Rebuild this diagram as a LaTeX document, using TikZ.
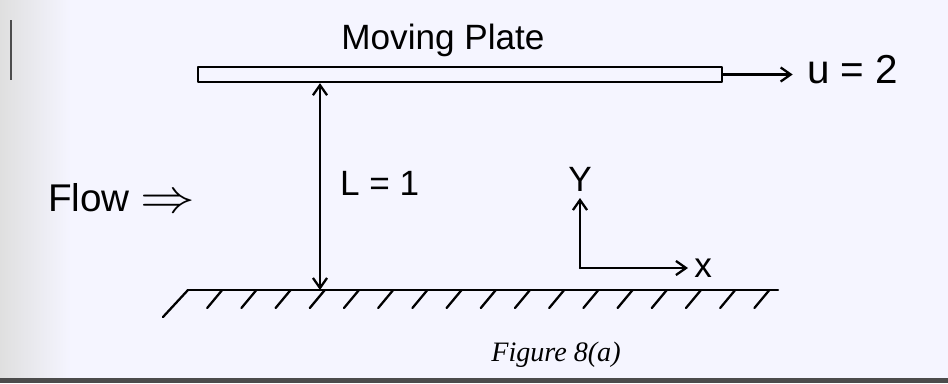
\documentclass[tikz,border=0pt]{standalone}
\usepackage{fontspec}
\setmainfont{Liberation Sans}
\newfontfamily\capfont{Liberation Serif}
\usepackage{graphicx}
\usepackage{tikz}
\usetikzlibrary{arrows.meta, positioning, calc}

\begin{document}
\begin{tikzpicture}[
  x=0.02cm, y=-0.02cm,
  hand/.style={line width=1.3pt, line cap=round, line join=round},
  arrow/.style={hand, -{Straight Barb[angle=70:7pt]}},
  dim/.style={hand, {Straight Barb[angle=70:7pt]}-{Straight Barb[angle=70:7pt]}},
  plate/.style={draw, hand, minimum width=524*0.02cm, minimum height=15*0.02cm, inner sep=0pt},
  label/.style={font=\fontsize{20}{24}\selectfont, inner sep=1pt},
]
\useasboundingbox (0,0) rectangle (948,383);

% page background and scan edges
\fill[white!96!blue] (0,0) rectangle (948,383);
\shade[left color=gray!25, right color=white!96!blue] (0,0) rectangle (70,378);
\fill[black!70] (0,378) rectangle (948,383);
\draw[line width=1pt, black!70] (11,20) -- (11,80);

% moving plate
\node[label] (title) at (443,40) {Moving Plate};
\node[plate] (plate) at (460,74.5) {};
\node[label, font=\fontsize{23}{26}\selectfont, anchor=west] (vel) at (805,70) {u = 2};
\draw[arrow, shorten >=7pt] (plate.east) -- (vel.west |- plate.east);

% fixed wall
\coordinate (gl) at (188,290);
\coordinate (gr) at (778,290);
\draw[hand] (gl) -- (gr);
\draw[hand] (gl) -- ++(-25,27);
\foreach \i in {1,...,17}
  \draw[hand] ($(gl)+(\i*34.2,0)$) -- ++(-15,18);

% gap height
\coordinate (dimx) at (320,0);
\draw[dim] (plate.south -| dimx) -- (gl -| dimx);
\node[label, anchor=west] (gap) at (338,183) {L = 1};

% incoming flow
\node[label, font=\fontsize{22}{26}\selectfont, anchor=west] (flow) at (46,198) {Flow \raisebox{-1pt}{\scalebox{1.5}[1.3]{$\Rightarrow$}}};

% axes
\coordinate (o) at (580,268);
\draw[arrow] (o) -- ++(0,-70) node[label, above=2pt] (ylab) {Y};
\draw[arrow] (o) -- ++(108,0) node[label, right=2pt] (xlab) {x};

% caption
\node[font=\capfont\itshape\fontsize{16}{19}\selectfont] (cap) at (556,355) {Figure 8(a)};
\end{tikzpicture}
\end{document}
